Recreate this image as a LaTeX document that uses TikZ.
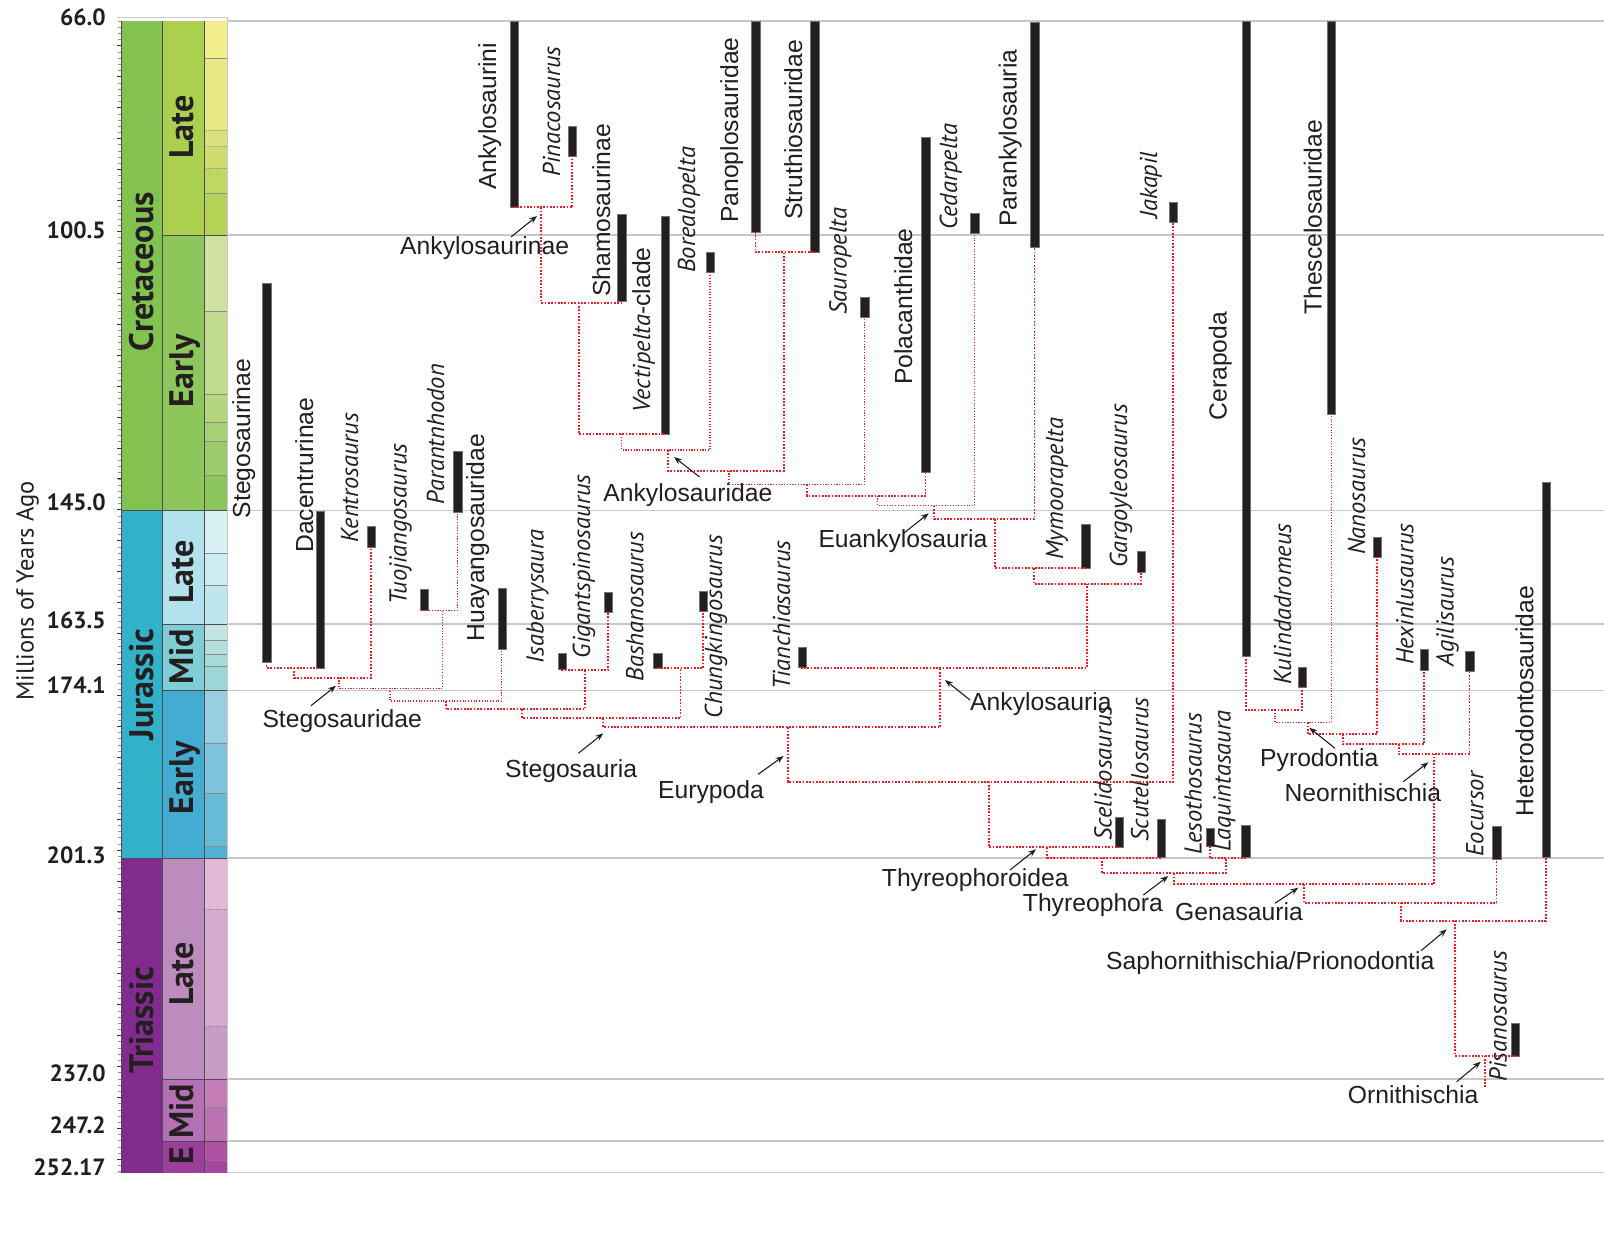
\documentclass[tikz,border=0pt]{standalone}
\usepackage{fontspec}
\setmainfont{Liberation Sans}
\newfontfamily\pts{PT Sans}
\usetikzlibrary{arrows.meta}
\definecolor{barc}{HTML}{231F20}
\definecolor{conc}{HTML}{ED1C24}
\definecolor{gridc}{HTML}{C8C8C8}
\definecolor{txtc}{HTML}{231F20}
\newcommand\myit{\fontsize{24.5}{28}\selectfont\pts\itshape}
\newcommand\cell[5]{\definecolor{tmpc}{HTML}{#5}\fill[tmpc] (#1,#3) rectangle (#2,#4);}
\newcommand\tbar[4]{\node[bar, minimum height=#4] (#1) at (#2,#3) {};}
\newcommand\cjoin[6][conn]{\draw[#1] (#2) -- (#2 |- 0,#4) -- (#3 |- 0,#4) -- (#3); \coordinate (#6) at (#5,#4);}
\newcommand\arrw[3]{\coordinate (#1s) at (#2); \coordinate (#1e) at (#3); \draw[arr] (#1s) -- (#1e);}
\tikzset{
 bar/.style={rectangle, fill=barc, draw=black!55, line width=0.3pt, minimum width=8.3pt, inner sep=0pt, outer sep=0pt, anchor=north},
 conn/.style={draw=conc, line width=1.7pt, dash pattern=on 1.7pt off 1.6pt},
 connthin/.style={draw=conc, line width=1.15pt, dash pattern=on 1.15pt off 1.6pt},
 gridln/.style={draw=gridc, line width=1.3pt},
 sep/.style={draw=black!70, line width=0.6pt},
 stg/.style={draw=black!45, line width=0.5pt},
 stgd/.style={draw=black!45, line width=0.5pt, dash pattern=on 1pt off 1pt},
 rl/.style={rotate=90, anchor=base west, inner sep=0pt, text=txtc, font=\fontsize{24.7}{28}\selectfont},
 il/.style={rotate=90, anchor=base west, inner sep=0pt, text=txtc, font=\myit},
 hl/.style={anchor=base west, inner sep=0pt, text=txtc, font=\fontsize{24.7}{28}\selectfont},
 arr/.style={draw=txtc, line width=1.1pt, -{Stealth[length=8pt,width=6pt]}},
 tsl/.style={rotate=90, anchor=base, inner sep=0pt, text=txtc, font=\fontsize{34}{38}\selectfont\pts\bfseries},
 num/.style={anchor=base east, inner sep=0pt, text=txtc, font=\fontsize{23.5}{26}\selectfont\pts\bfseries},
}
\begin{document}
\begin{tikzpicture}[x=1pt,y=-1pt]
\useasboundingbox (0,0) rectangle (1604,1243);
\fill[white] (0,0) rectangle (1604,1243);
% grid lines
\foreach \yy in {21,235,510.7,624,690.7,858,1079,1141,1172.7} \draw[gridln] (227,\yy) -- (1604,\yy);
\draw[gridc, line width=1pt] (117,17.5) -- (227,17.5) -- (227,1172.7);
\draw[gridc, line width=1pt] (117,1172.7) -- (227,1172.7);
% period column
\cell{121}{162.7}{21}{510.7}{82C250}
\cell{121}{162.7}{510.7}{858}{33B1C9}
\cell{121}{162.7}{858}{1172.7}{812B8F}
% epoch column
\cell{162.7}{204}{21}{235}{ABCF4F}
\cell{162.7}{204}{235}{510.7}{8DC65A}
\cell{162.7}{204}{510.7}{624}{B3E2EE}
\cell{162.7}{204}{624}{690.7}{80CDD6}
\cell{162.7}{204}{690.7}{858}{42ADD0}
\cell{162.7}{204}{858}{1079}{BD8CBF}
\cell{162.7}{204}{1079}{1141}{B56FB4}
\cell{162.7}{204}{1141}{1172.7}{9C3F9C}
% stage column
\cell{204}{227}{21}{58.7}{F2EE8D}
\cell{204}{227}{58.7}{130}{E6E985}
\cell{204}{227}{130}{146.6}{D9E27A}
\cell{204}{227}{146.6}{168.2}{CCDD6E}
\cell{204}{227}{168.2}{193.6}{BFD862}
\cell{204}{227}{193.6}{235}{B3D357}
\cell{204}{227}{235}{311.7}{CFE19F}
\cell{204}{227}{311.7}{394.3}{C0DB8C}
\cell{204}{227}{394.3}{422.7}{B3D67F}
\cell{204}{227}{422.7}{441.7}{A6D174}
\cell{204}{227}{441.7}{475}{9BCC69}
\cell{204}{227}{475}{510.7}{8EC65E}
\cell{204}{227}{510.7}{553}{D9F0F5}
\cell{204}{227}{553}{585.7}{CCEBF2}
\cell{204}{227}{585.7}{624}{BFE6EF}
\cell{204}{227}{624}{640}{C2E5E1}
\cell{204}{227}{640}{654}{B3E0DE}
\cell{204}{227}{654}{666.7}{A6DBDA}
\cell{204}{227}{666.7}{690.7}{9AD7D6}
\cell{204}{227}{690.7}{743}{99CDE2}
\cell{204}{227}{743}{793}{80C4DC}
\cell{204}{227}{793}{846}{67BBD7}
\cell{204}{227}{846}{858}{4EB2D2}
\cell{204}{227}{858}{909}{E3B8D6}
\cell{204}{227}{909}{1026}{D6A9CE}
\cell{204}{227}{1026}{1079}{C99BC7}
\cell{204}{227}{1079}{1107}{C67DB8}
\cell{204}{227}{1107}{1141}{BB72B1}
\cell{204}{227}{1141}{1160}{B051A4}
\cell{204}{227}{1160}{1172.7}{A4469E}
% separators
\foreach \yy in {58.7,193.6,311.7,394.3,422.7,441.7,475,553,585.7,640,654,666.7,743,793,846,1107} \draw[stg] (204,\yy) -- (227,\yy);
\foreach \yy in {130,146.6,168.2,909,1026,1160} \draw[stgd] (204,\yy) -- (227,\yy);
\foreach \yy in {235,624,690.7,1079,1141} \draw[sep] (162.7,\yy) -- (227,\yy);
\foreach \yy in {510.7,858} \draw[sep] (121,\yy) -- (227,\yy);
\draw[sep] (121,21) -- (121,1172.7);
\draw[sep] (162.7,21) -- (162.7,1172.7);
\draw[sep] (204,21) -- (204,1172.7);
% ticks
\foreach \m in {66,...,252} {\pgfmathsetmacro\yy{21+(\m-66)*6.186}\draw[black!45, line width=0.5pt] (121,\yy) -- (118,\yy);}
\foreach \m in {70,75,...,250} {\pgfmathsetmacro\yy{21+(\m-66)*6.186}\draw[black!80, line width=0.6pt] (121,\yy) -- (116.5,\yy);}
% timescale labels
\node[tsl] (tCret) at (153.3,271.7) {Cretaceous};
\node[tsl] (tJur) at (153.3,684.5) {Jurassic};
\node[tsl] (tTri) at (153.3,1020) {Triassic};
\node[tsl] (eLK) at (193.3,127) {Late};
\node[tsl] (eEK) at (193.3,371) {Early};
\node[tsl] (eLJ) at (193.3,572) {Late};
\node[tsl] (eMJ) at (193.3,656.7) {Mid};
\node[tsl] (eEJ) at (193.3,777.7) {Early};
\node[tsl] (eLT) at (193.3,974) {Late};
\node[tsl] (eMT) at (193.3,1111.5) {Mid};
\node[tsl] (eET) at (193.3,1155.8) {E};
\node[num] (n660) at (106,25) {66.0};
\node[num] (n1005) at (106,238.3) {100.5};
\node[num] (n1450) at (106,510.7) {145.0};
\node[num] (n1635) at (106,628.3) {163.5};
\node[num] (n1741) at (106,693.3) {174.1};
\node[num] (n2013) at (106,863.3) {201.3};
\node[num] (n2370) at (106,1081.7) {237.0};
\node[num] (n2472) at (106,1133.3) {247.2};
\node[num] (n25217) at (106,1175) {252.17};
\node[rotate=90, anchor=base, inner sep=0pt, text=txtc, font=\fontsize{24.5}{28}\selectfont\pts] (yaxis) at (33.5,591) {Millions of Years Ago};
% bars
\tbar{stegosaurinae}{266.5}{283}{378.7}
\tbar{dacentrurinae}{320}{511}{156.7}
\tbar{kentrosaurus}{371}{526}{20.7}
\tbar{tuojiangosaurus}{424}{589.3}{20.7}
\tbar{parantnhodon}{457.5}{451}{61.3}
\tbar{huayangosauridae}{501.8}{588.3}{60.7}
\tbar{isaberrysaura}{562}{653.3}{16}
\tbar{gigantspinosaurus}{608.3}{591.7}{20}
\tbar{bashanosaurus}{657.5}{652.7}{15.6}
\tbar{chungkingosaurus}{703}{591}{20}
\tbar{tianchiasaurus}{801.8}{646.7}{20}
\tbar{ankylosaurini}{514}{21}{186}
\tbar{pinacosaurus}{572.3}{126}{30}
\tbar{shamosaurinae}{621.5}{214.5}{87}
\tbar{vectipelta}{665.4}{216}{218.3}
\tbar{borealopelta}{710}{252}{20}
\tbar{panoplosauridae}{755.5}{21}{211}
\tbar{struthiosauridae}{814.5}{21}{231}
\tbar{sauropelta}{864.6}{297}{20}
\tbar{polacanthidae}{925.5}{136.7}{335.6}
\tbar{cedarpelta}{974.5}{213}{20.3}
\tbar{parankylosauria}{1034.5}{22}{225}
\tbar{mymoorapelta}{1085.5}{524}{44.3}
\tbar{gargoyleosaurus}{1141}{551}{20.7}
\tbar{jakapil}{1173}{202}{20.3}
\tbar{cerapoda}{1246}{21}{634.7}
\tbar{thescelosauridae}{1331.3}{21}{393.3}
\tbar{kulindadromeus}{1302}{666.7}{20}
\tbar{nanosaurus}{1377}{536.7}{20.6}
\tbar{hexinlusaurus}{1424}{649.3}{20.7}
\tbar{agilisaurus}{1469.5}{650.7}{20}
\tbar{heterodontosauridae}{1546}{482.3}{374.4}
\tbar{scelidosaurus}{1119.3}{816.7}{30.6}
\tbar{scutellosaurus}{1160.8}{819}{38.3}
\tbar{lesothosaurus}{1210.3}{827.7}{18.3}
\tbar{laquintasaura}{1245.5}{825.3}{32}
\tbar{eocursor}{1496.5}{825.7}{33.3}
\tbar{pisanosaurus}{1515.3}{1022.7}{33.3}
% rotated clade labels
\node[rl] (lAnkylosaurini) at (496,190) {Ankylosaurini};
\node[rl] (lShamo) at (610,297) {Shamosaurinae};
\node[rl] (lVect) at (650,413) {{\myit Vectipelta}-clade};
\node[rl] (lPano) at (738,223) {Panoplosauridae};
\node[rl] (lStru) at (802,220) {Struthiosauridae};
\node[rl] (lPola) at (912,385) {Polacanthidae};
\node[rl] (lPara) at (1016.5,227) {Parankylosauria};
\node[rl] (lCera) at (1226.5,420.7) {Cerapoda};
\node[rl] (lThes) at (1321.7,315) {Thescelosauridae};
\node[rl] (lStegn) at (250,518.3) {Stegosaurinae};
\node[rl] (lDace) at (313,553) {Dacentrurinae};
\node[rl] (lHuay) at (484,641.7) {Huayangosauridae};
\node[rl] (lHete) at (1533.3,816.7) {Heterodontosauridae};
% italic taxon labels
\node[il] (lPina) at (560,177) {Pinacosaurus};
\node[il] (lBore) at (695,273) {Borealopelta};
\node[il] (lSaur) at (846.5,315) {Sauropelta};
\node[il] (lCeda) at (957,230) {Cedarpelta};
\node[il] (lJaka) at (1157,218.3) {Jakapil};
\node[il] (lKent) at (358,543) {Kentrosaurus};
\node[il] (lTuoj) at (406.5,605) {Tuojiangosaurus};
\node[il] (lPart) at (444,505) {Parantnhodon};
\node[il] (lIsab) at (543.5,663.3) {Isaberrysaura};
\node[il] (lGiga) at (590,658.3) {Gigantspinosaurus};
\node[il] (lBash) at (643.3,681.7) {Bashanosaurus};
\node[il] (lChun) at (722,718.3) {Chungkingosaurus};
\node[il] (lTian) at (790,690) {Tianchiasaurus};
\node[il] (lMymo) at (1063,560) {Mymoorapelta};
\node[il] (lGarg) at (1127,568) {Gargoyleosaurus};
\node[il] (lKuli) at (1291,685) {Kulindadromeus};
\node[il] (lNano) at (1365,555) {Nanosaurus};
\node[il] (lHexi) at (1413.3,665) {Hexinlusaurus};
\node[il] (lAgil) at (1453.5,666.7) {Agilisaurus};
\node[il] (lScel) at (1111.7,841) {Scelidosaurus};
\node[il] (lScut) at (1148.3,841.7) {Scutellosaurus};
\node[il] (lLeso) at (1201.7,855) {Lesothosaurus};
\node[il] (lLaqu) at (1230.5,851.7) {Laquintasaura};
\node[il] (lEocu) at (1483.3,856.7) {Eocursor};
\node[il] (lPisa) at (1506.7,1081.7) {Pisanosaurus};
% connectors: Stegosauria
\cjoin{stegosaurinae.south}{dacentrurinae.south}{667.7}{294}{c1}
\cjoin{c1}{kentrosaurus.south}{677.7}{339}{c2}
\cjoin[connthin]{tuojiangosaurus.south}{parantnhodon.south}{610.3}{442.3}{c3}
\cjoin[connthin]{c2}{c3}{688.3}{390}{c4}
\cjoin[connthin]{c4}{huayangosauridae.south}{701}{445.7}{c5}
\cjoin{isaberrysaura.south}{gigantspinosaurus.south}{670}{585}{c6}
\cjoin{c5}{c6}{709.3}{522.3}{c7}
\cjoin{bashanosaurus.south}{chungkingosaurus.south}{668.3}{680.5}{c8}
\cjoin{c7}{c8}{718.3}{603.3}{c9}
% Ankylosauria
\cjoin{ankylosaurini.south}{pinacosaurus.south}{207.3}{541}{a1}
\cjoin{a1}{shamosaurinae.south}{302.7}{579}{a2}
\cjoin{a2}{vectipelta.south}{434.3}{621.8}{a3}
\cjoin[connthin]{a3}{borealopelta.south}{450}{668}{a4}
\cjoin{panoplosauridae.south}{struthiosauridae.south}{252.3}{784}{a5}
\cjoin{a4}{a5}{470.7}{729}{a6}
\cjoin[connthin]{a6}{sauropelta.south}{484.3}{806.8}{a7}
\cjoin{a7}{polacanthidae.south}{495.7}{877.5}{a8}
\cjoin[connthin]{a8}{cedarpelta.south}{505.7}{934}{a9}
\cjoin{a9}{parankylosauria.south}{519}{995}{a10}
\cjoin{a10}{mymoorapelta.south}{568.3}{1034}{a11}
\cjoin{a11}{gargoyleosaurus.south}{584}{1087.3}{a12}
\cjoin{tianchiasaurus.south}{a12}{667.7}{940}{a13}
\cjoin{c9}{a13}{727.3}{787.7}{e1}
\cjoin{e1}{jakapil.south}{781.7}{989}{e2}
\cjoin{e2}{scelidosaurus.south}{847.3}{1047.3}{t1}
\cjoin{t1}{scutellosaurus.south}{857.7}{1102.3}{t2}
\cjoin{lesothosaurus.south}{laquintasaura.south}{858.3}{1225.7}{t3}
\cjoin{t2}{t3}{873.3}{1174.3}{t4}
% Neornithischia
\cjoin{cerapoda.south}{kulindadromeus.south}{710}{1275}{n1}
\cjoin[connthin]{n1}{thescelosauridae.south}{722.3}{1307.7}{n2}
\cjoin{n2}{nanosaurus.south}{734}{1342.7}{n3}
\cjoin{n3}{hexinlusaurus.south}{744}{1399}{n4}
\cjoin{n4}{agilisaurus.south}{754.3}{1434}{n5}
\cjoin{t4}{n5}{884}{1304}{g1}
\cjoin{g1}{eocursor.south}{902.7}{1400.7}{g2}
\cjoin{g2}{heterodontosauridae.south}{920.7}{1455}{g3}
\cjoin{g3}{pisanosaurus.south}{1055.7}{1485.3}{rt}
\coordinate (rootend) at (1485.3,1086.7);
\draw[conn] (rt) -- (rootend);
% clade name labels
\node[hl] (hAnkylosaurinae) at (400,254.4) {Ankylosaurinae};
\node[hl] (hStegosauridae) at (262.3,727.7) {Stegosauridae};
\node[hl] (hStegosauria) at (505,777.7) {Stegosauria};
\node[hl] (hAnkylosauridae) at (603.2,501) {Ankylosauridae};
\node[hl] (hEuankylosauria) at (818.3,547.7) {Euankylosauria};
\node[hl] (hAnkylosauria) at (970,710.4) {Ankylosauria};
\node[hl] (hEurypoda) at (658,798.3) {Eurypoda};
\node[hl] (hThyreophoroidea) at (881.7,886) {Thyreophoroidea};
\node[hl] (hThyreophora) at (1022.7,911) {Thyreophora};
\node[hl] (hGenasauria) at (1175,920.4) {Genasauria};
\node[hl] (hPyrodontia) at (1260,766) {Pyrodontia};
\node[hl] (hNeornithischia) at (1284.3,801.7) {Neornithischia};
\node[hl] (hSaphornithischia) at (1106,969.4) {Saphornithischia/Prionodontia};
\node[hl] (hOrnithischia) at (1347.7,1103.7) {Ornithischia};
% arrows
\arrw{ar1}{511,237}{537,216}
\arrw{ar2}{311,705.7}{336,685.7}
\arrw{ar3}{578.3,753.3}{603.3,733.3}
\arrw{ar4}{699.6,477}{674,457}
\arrw{ar5}{904,533}{928.7,513.3}
\arrw{ar6}{970,700}{945,680}
\arrw{ar7}{758,774.4}{783.6,756}
\arrw{ar8}{1010,870}{1036,849.3}
\arrw{ar9}{1143.3,895}{1168.3,876}
\arrw{ar10}{1275,903.3}{1298.3,887.7}
\arrw{ar11}{1335,748.3}{1309.3,727.7}
\arrw{ar12}{1403.3,781.7}{1428.3,762.3}
\arrw{ar13}{1421,950.7}{1446.7,929.3}
\arrw{ar14}{1456.7,1081.7}{1480.7,1061.7}
\end{tikzpicture}
\end{document}
